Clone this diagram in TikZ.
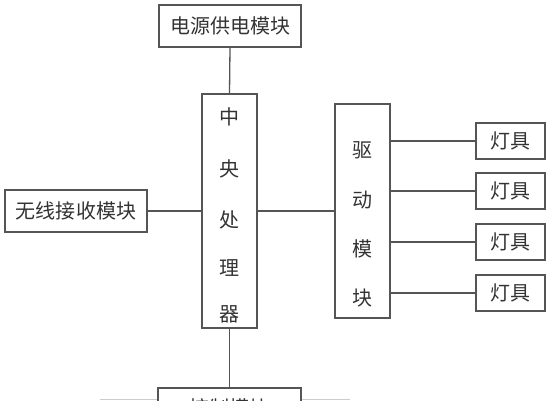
\documentclass[tikz,border=0pt]{standalone}
\usepackage{fontspec}
\newfontfamily\cjk{Noto Sans CJK SC}[Scale=1]
\definecolor{ln}{HTML}{555555}
\definecolor{tx}{HTML}{333333}
\tikzset{
  box/.style={draw=ln, line width=1.3pt, inner sep=0pt, text=tx, font=\cjk\fontsize{20}{24}\selectfont},
  conn/.style={draw=ln, line width=1.3pt},
  faint/.style={draw=ln!30, line width=1.3pt}
}
\begin{document}
\begin{tikzpicture}[x=1pt,y=-1pt]
\useasboundingbox (0,0) rectangle (551,400);
\clip (0,0) rectangle (551,400);
% boxes
\node[box, minimum width=142pt, minimum height=42pt] (pwr) at (230,26) {电源供电模块};
\node[box, minimum width=55pt, minimum height=234pt, align=center] (cpu) at (229.5,211) {};
\node[box, minimum width=142pt, minimum height=42pt] (wl) at (76,211) {无线接收模块};
\node[box, minimum width=55pt, minimum height=214pt] (drv) at (362.5,211) {};
\node[box, minimum width=143pt, minimum height=40pt] (ctl) at (229.5,408) {控制模块};
% vertical texts
\foreach \c/\y in {中/117, 央/169, 处/220, 理/268, 器/314}
  \node[text=tx, font=\cjk\fontsize{20}{24}\selectfont] at (229.5,\y) {\c};
\foreach \c/\y in {驱/150, 动/200, 模/249, 块/298}
  \node[text=tx, font=\cjk\fontsize{20}{24}\selectfont] at (362.5,\y) {\c};
% lamps
\node[box, minimum width=69pt, minimum height=36pt] (l1) at (510.5,141) {灯具};
\node[box, minimum width=69pt, minimum height=36pt] (l2) at (510.5,191) {灯具};
\node[box, minimum width=69pt, minimum height=36pt] (l3) at (510.5,242) {灯具};
\node[box, minimum width=69pt, minimum height=36pt] (l4) at (510.5,293) {灯具};
% connectors
\draw[conn] (pwr.south) -- (cpu.north);
\draw[conn] (cpu.south) -- (ctl.north);
\draw[conn] (wl.east) -- (cpu.west);
\draw[conn] (cpu.east) -- (drv.west);
\foreach \i in {1,...,4}
  \draw[conn] (l\i.west -| drv.east) -- (l\i.west);
% faint lines at the bottom edge
\coordinate (fl) at (100,399.5);
\coordinate (fr) at (350,399.5);
\draw[faint] (fl) -- (ctl.west |- fl);
\draw[faint] (ctl.east |- fr) -- (fr);
\end{tikzpicture}
\end{document}
